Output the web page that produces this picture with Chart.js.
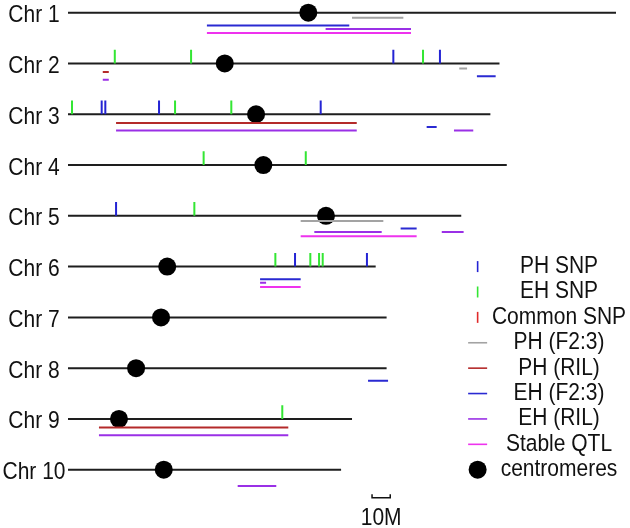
<!DOCTYPE html>
<html>
<head>
<meta charset="utf-8">
<script src="https://cdn.jsdelivr.net/npm/chart.js@4/dist/chart.umd.min.js"></script>
<style>
  html, body { margin: 0; padding: 0; background: #fff; }
</style>
</head>
<body>
<canvas id="myChart" width="630" height="528"></canvas>
<script>
// chromosome index, length and centromere position in Mb
const chromosomes = ['Chr 1', 'Chr 2', 'Chr 3', 'Chr 4', 'Chr 5', 'Chr 6', 'Chr 7', 'Chr 8', 'Chr 9', 'Chr 10'];
const chrLengths = [301, 237, 232, 241, 216, 169, 175, 175, 156, 150];
const centromeres = [132.0, 86.1, 103.3, 107.3, 141.7, 54.5, 51.1, 37.4, 28.0, 52.6];

// SNPs: [chromosome, position Mb]
const phSnp = [[2, 178.7], [2, 204.3], [3, 18.5], [3, 20.5], [3, 50.0], [3, 138.8], [5, 26.4], [6, 124.7], [6, 164.2]];
const ehSnp = [[2, 25.7], [2, 67.6], [2, 195.0], [3, 2.2], [3, 58.8], [3, 89.7], [4, 74.5], [4, 130.6],
  [5, 69.4], [6, 113.9], [6, 133.1], [6, 137.9], [6, 139.9], [9, 117.7]];
const commonSnp = [];

// QTL intervals: [chromosome, start Mb, end Mb]
const phF23 = [[1, 156.0, 184.2], [2, 214.9, 219.2], [5, 127.8, 173.2]];
const phRil = [[2, 19.1, 22.4], [3, 26.4, 158.6], [9, 17.0, 121.0]];
const ehF23 = [[1, 76.3, 154.5], [2, 224.6, 234.9], [3, 197.0, 202.5], [5, 182.7, 191.5], [6, 105.5, 127.8], [8, 164.8, 175.8]];
const ehRil = [[1, 141.5, 188.4], [2, 19.1, 22.4], [3, 26.4, 158.6], [3, 212.0, 222.6], [5, 135.3, 172.3],
  [5, 205.3, 217.3], [6, 105.5, 108.8], [9, 17.0, 121.0], [10, 93.2, 114.4]];
const stableQtl = [[1, 76.3, 188.4], [5, 127.8, 191.5], [6, 105.5, 127.8]];

const scaleBar = [167, 177];

const FONT = '21px "Liberation Sans", Arial, sans-serif';
const TICK = 0.27;   // SNP tick height (in row units)
const GAP = {x: NaN, y: NaN};

function tickData(list) {
  const pts = [];
  list.forEach(([c, pos]) => pts.push({x: pos, y: c}, {x: pos, y: c - TICK}, GAP));
  return pts;
}

function qtlData(list, off) {
  const pts = [];
  list.forEach(([c, s, e]) => pts.push({x: s, y: c + off}, {x: e, y: c + off}, GAP));
  return pts;
}

const chrLines = [];
chrLengths.forEach((len, i) => chrLines.push({x: 0, y: i + 1}, {x: len, y: i + 1}, GAP));

function lineSet(label, data, color, kind, order) {
  return {
    label: label, data: data, kind: kind, order: order,
    showLine: true, borderColor: color, backgroundColor: color,
    borderWidth: 2, borderCapStyle: 'butt', pointRadius: 0, clip: false,
  };
}

const data = {
  datasets: [
    lineSet('PH SNP', tickData(phSnp), '#2424d4', 'tick', 1),
    lineSet('EH SNP', tickData(ehSnp), '#33e633', 'tick', 1),
    lineSet('Common SNP', tickData(commonSnp), '#e02a2a', 'tick', 1),
    lineSet('PH (F2:3)', qtlData(phF23, 0.10), '#a3a3a3', 'bar', 1),
    lineSet('PH (RIL)', qtlData(phRil, 0.17), '#b42a2a', 'bar', 1),
    lineSet('EH (F2:3)', qtlData(ehF23, 0.25), '#2a2ad2', 'bar', 1),
    lineSet('EH (RIL)', qtlData(ehRil, 0.32), '#9a30e6', 'bar', 1),
    lineSet('Stable QTL', qtlData(stableQtl, 0.40), '#ee33ee', 'bar', 1),
    {
      label: 'centromeres', kind: 'dot', order: 2,
      data: centromeres.map((c, i) => ({x: c, y: i + 1})),
      showLine: false, pointRadius: 9, pointBackgroundColor: '#000', pointBorderWidth: 0,
      backgroundColor: '#000', clip: false,
    },
    {
      label: '', kind: 'none', order: 3, data: chrLines,
      showLine: true, borderColor: '#1e1e1e', borderWidth: 2, pointRadius: 0, clip: false,
    },
  ]
};

// text slightly taller than wide, like the original figure
function tallText(ctx, str, cx, cy) {
  ctx.save();
  ctx.translate(cx, cy);
  ctx.scale(1, 1.12);
  ctx.fillText(str, 0, 0);
  ctx.restore();
}

// chromosome names, side legend and the 10M scale bar
const mapDecor = {
  id: 'mapDecor',
  afterDraw(chart) {
    const {ctx, scales: {x, y}} = chart;
    ctx.save();
    ctx.font = FONT;
    ctx.fillStyle = '#111';
    ctx.textBaseline = 'middle';
    ctx.textAlign = 'center';
    chromosomes.forEach((name, i) => {
      tallText(ctx, name, 34, y.getPixelForValue(i + 1) + 3);
    });

    let k = 0;
    chart.data.datasets.forEach((ds) => {
      if (!ds.label) return;
      const py = y.getPixelForValue(6 + k / 2);
      const px = x.getPixelForValue(225);
      ctx.strokeStyle = ds.borderColor || ds.backgroundColor;
      ctx.lineWidth = 1.6;
      ctx.beginPath();
      if (ds.kind === 'tick') {
        ctx.moveTo(px, py - 5.5);
        ctx.lineTo(px, py + 5.5);
        ctx.stroke();
      } else if (ds.kind === 'bar') {
        ctx.moveTo(px - 9.5, py);
        ctx.lineTo(px + 9.5, py);
        ctx.stroke();
      } else {
        ctx.fillStyle = '#000';
        ctx.arc(px, py, 9, 0, Math.PI * 2);
        ctx.fill();
      }
      ctx.fillStyle = '#111';
      tallText(ctx, ds.label, x.getPixelForValue(269.7), py);
      k++;
    });

    const x0 = x.getPixelForValue(scaleBar[0]);
    const x1 = x.getPixelForValue(scaleBar[1]);
    const by = y.getPixelForValue(10.55);
    ctx.strokeStyle = '#111';
    ctx.lineWidth = 1.5;
    ctx.beginPath();
    ctx.moveTo(x0, by - 3.5);
    ctx.lineTo(x0, by);
    ctx.lineTo(x1, by);
    ctx.lineTo(x1, by - 3.5);
    ctx.stroke();
    tallText(ctx, '10M', (x0 + x1) / 2, y.getPixelForValue(10.96));
    ctx.restore();
  }
};

const config = {
  type: 'scatter',
  data: data,
  options: {
    responsive: false,
    devicePixelRatio: 1,
    animation: false,
    events: [],
    layout: {
      autoPadding: false,
      padding: {left: 68, right: 14, top: 0, bottom: 7.5},
    },
    scales: {
      x: {type: 'linear', min: 0, max: 301, display: false},
      y: {type: 'linear', min: 0.75, max: 11, reverse: true, display: false},
    },
    plugins: {
      legend: {display: false},
      tooltip: {enabled: false},
    },
  },
  plugins: [mapDecor],
};

const myChart = new Chart(document.getElementById('myChart'), config);
</script>
</body>
</html>
